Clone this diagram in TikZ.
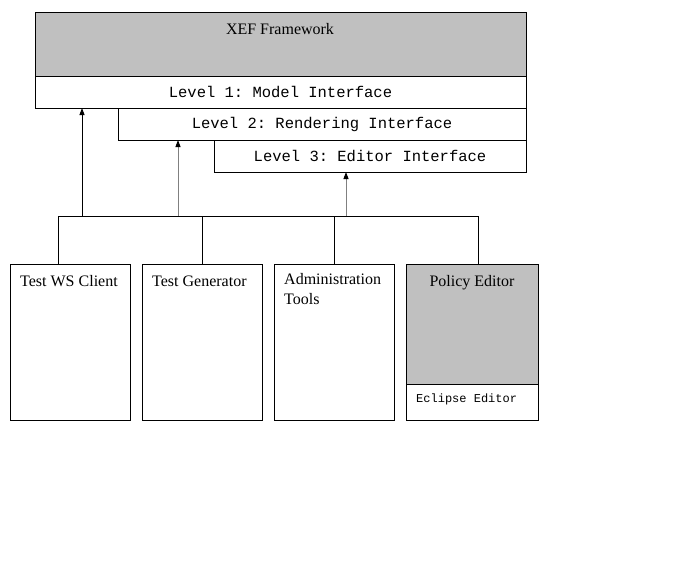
\documentclass[tikz,border=0pt]{standalone}
\usepackage{fontspec}
\setmainfont{Liberation Serif}
\setmonofont{Liberation Mono}
\usetikzlibrary{arrows.meta}
\definecolor{boxgray}{HTML}{C0C0C0}
\definecolor{linegray}{HTML}{808080}
\begin{document}
\begin{tikzpicture}[x=1pt,y=-1pt,
  box/.style={draw=black, line width=0.9pt, anchor=north west, inner sep=0pt, outer sep=0pt},
  serif/.style={font=\fontsize{16}{19}\selectfont, inner sep=0pt},
  monolabel/.style={font=\ttfamily\fontsize{15.5}{18}\selectfont},
  smallmono/.style={font=\ttfamily\fontsize{12}{14}\selectfont, inner sep=0pt},
  conn/.style={line width=0.9pt},
  upar/.style={line width=0.9pt, -{Triangle[length=7pt,width=5pt]}},
  grayar/.style={line width=0.9pt, draw=linegray, -{Triangle[length=7pt,width=5pt,black]}}]
\useasboundingbox (0,0) rectangle (695,579);
\fill[white] (0,0) rectangle (695,579);

% framework stack
\node[box, fill=boxgray, minimum width=491pt, minimum height=64pt] (xef) at (35,12) {};
\node[serif, anchor=base] (xeft) at (280,34) {XEF Framework};
\node[box, monolabel, minimum width=491pt, minimum height=32pt] (l1) at (35,76) {Level 1: Model Interface};
\node[box, monolabel, minimum width=408pt, minimum height=32pt] (l2) at (118,108) {Level 2: Rendering Interface};
\node[box, monolabel, minimum width=312pt, minimum height=32pt] (l3) at (214,140) {Level 3: Editor Interface};

% bottom boxes
\node[box, minimum width=120pt, minimum height=156pt] (ws) at (10,264) {};
\node[box, minimum width=120pt, minimum height=156pt] (gen) at (142,264) {};
\node[box, minimum width=120pt, minimum height=156pt] (adm) at (274,264) {};
\node[box, fill=boxgray, minimum width=132pt, minimum height=120pt] (pol) at (406,264) {};
\node[box, minimum width=132pt, minimum height=36pt] (ecl) at (406,384) {};

\node[serif, anchor=base west] (wst) at (20,286) {Test WS Client};
\node[serif, anchor=base west] (gent) at (152,286) {Test Generator};
\node[serif, anchor=base west] (admt) at (284,284) {Administration};
\node[serif, anchor=base west] (admt2) at (284,304) {Tools};
\node[serif, anchor=base] (polt) at (472,286) {Policy Editor};
\node[smallmono, anchor=base west] (eclt) at (416,402) {Eclipse Editor};

% bus
\coordinate (busL) at (58,216);
\coordinate (busR) at (478,216);
\coordinate (d2) at (202,216);
\coordinate (d3) at (334,216);
\draw[conn] (busL) -- (busR);
\draw[conn] (busL) -- (busL |- ws.north);
\draw[conn] (d2) -- (d2 |- gen.north);
\draw[conn] (d3) -- (d3 |- adm.north);
\draw[conn] (busR) -- (busR |- pol.north);

% arrows up
\coordinate (a1) at (82,216);
\coordinate (a2) at (178,216);
\coordinate (a3) at (346,216);
\draw[upar] (a1) -- (a1 |- l1.south);
\draw[grayar] (a2) -- (a2 |- l2.south);
\draw[grayar] (a3) -- (a3 |- l3.south);
\end{tikzpicture}
\end{document}
